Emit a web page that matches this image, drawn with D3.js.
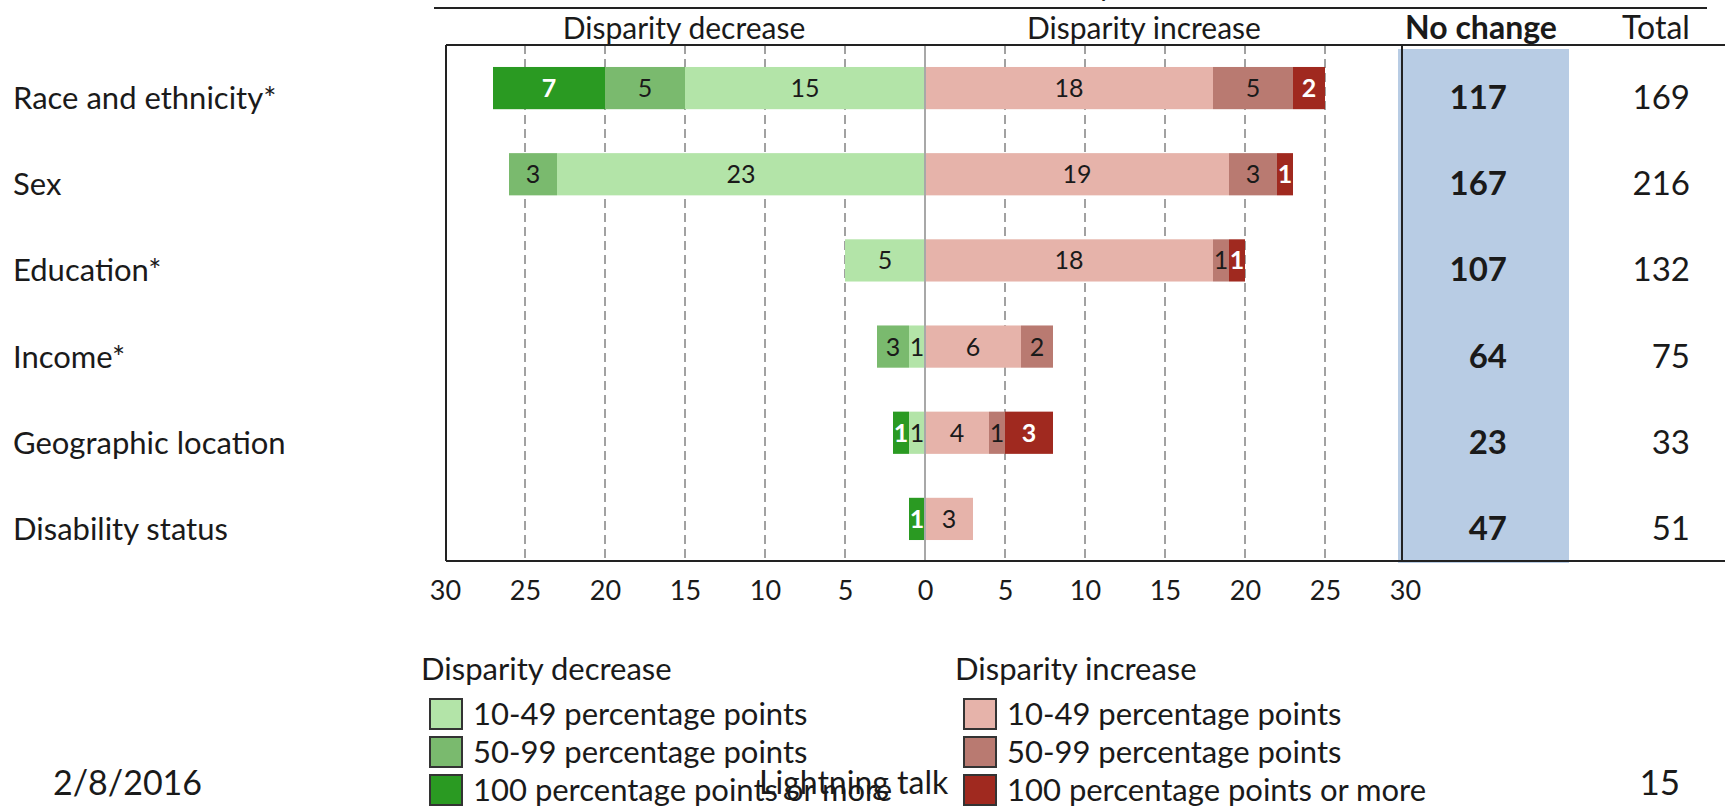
<!DOCTYPE html>
<html>
<head>
<meta charset="utf-8">
<script src="https://cdn.jsdelivr.net/npm/d3@7"></script>
<style>
  html, body { margin: 0; padding: 0; background: #fff; }
  svg { display: block; }
  text { font-family: Lato, "Noto Sans", sans-serif; fill: #1a1a1a; }
</style>
</head>
<body>
<svg id="chart" width="1725" height="811"></svg>
<script>
// ---- data ----
const categories = ["Race and ethnicity*", "Sex", "Education*", "Income*", "Geographic location", "Disability status"];
const dec100 = [7, 0, 0, 0, 1, 1];
const dec50  = [5, 3, 0, 2, 0, 0];
const dec10  = [15, 23, 5, 1, 1, 0];
const inc10  = [18, 19, 18, 6, 4, 3];
const inc50  = [5, 3, 1, 2, 1, 0];
const inc100 = [2, 1, 1, 0, 3, 0];
// labels printed on the bars (as shown in the source)
const dec50Labels = [5, 3, 0, 3, 0, 0];
const noChange = [117, 167, 107, 64, 23, 47];
const totals   = [169, 216, 132, 75, 33, 51];
const tickValues = [-30, -25, -20, -15, -10, -5, 0, 5, 10, 15, 20, 25, 30];
const legendDecrease = ["10-49 percentage points", "50-99 percentage points", "100 percentage points or more"];
const legendIncrease = ["10-49 percentage points", "50-99 percentage points", "100 percentage points or more"];

const colors = {
  dec10: "#b3e4a8", dec50: "#7aba6e", dec100: "#2a9a22",
  inc10: "#e6b3aa", inc50: "#b97a71", inc100: "#a0291f"
};

const svg = d3.select("#chart");

// ---- scales ----
const x = d3.scaleLinear().domain([-30, 30]).range([445, 1405]);
const y = d3.scaleBand().domain(categories).range([45, 562]).paddingInner(0.51).paddingOuter(0.255);

const rows = categories.map((c, i) => ({
  cat: c, i,
  dec10: dec10[i], dec50: dec50[i], dec100: dec100[i],
  inc10: inc10[i], inc50: inc50[i], inc100: inc100[i]
}));

// ---- top title fragment and separator ----
svg.append("text").attr("x", 1106).attr("y", -4).attr("text-anchor", "middle")
  .style("font-size", "30px").text("y");
svg.append("line").attr("x1", 434).attr("x2", 1707).attr("y1", 8).attr("y2", 8)
  .attr("stroke", "#222").attr("stroke-width", 2);

// ---- no change column background ----
svg.append("rect").attr("x", 1398).attr("y", 49).attr("width", 171).attr("height", 514)
  .attr("fill", "#b8cce4");

// ---- grid lines ----
svg.append("g").selectAll("line")
  .data(tickValues.filter(v => v !== 0 && Math.abs(v) !== 30))
  .join("line")
  .attr("x1", d => x(d)).attr("x2", d => x(d))
  .attr("y1", 45).attr("y2", 561)
  .attr("stroke", "#8a8a8a").attr("stroke-width", 1.6)
  .attr("stroke-dasharray", "9,5");

// ---- bars ----
const stack = d3.stack()
  .keys(["dec10", "dec50", "dec100", "inc10", "inc50", "inc100"])
  .value((d, k) => k.startsWith("dec") ? -d[k] : d[k])
  .offset(d3.stackOffsetDiverging);
const series = stack(rows);

const segs = [];
series.forEach(s => {
  s.forEach((d, i) => {
    if (d[1] - d[0] !== 0) {
      let label = rows[i][s.key];
      if (s.key === "dec50") label = dec50Labels[i];
      segs.push({ key: s.key, cat: categories[i], x0: Math.min(d[0], d[1]), x1: Math.max(d[0], d[1]), label });
    }
  });
});

const barG = svg.append("g");
barG.selectAll("rect").data(segs).join("rect")
  .attr("x", d => x(d.x0))
  .attr("width", d => x(d.x1) - x(d.x0))
  .attr("y", d => y(d.cat))
  .attr("height", y.bandwidth())
  .attr("fill", d => colors[d.key]);

barG.selectAll("text").data(segs).join("text")
  .attr("x", d => (x(d.x0) + x(d.x1)) / 2)
  .attr("y", d => y(d.cat) + y.bandwidth() / 2 + 9)
  .attr("text-anchor", "middle")
  .style("font-size", "25px")
  .style("fill", d => d.key.endsWith("100") ? "#ffffff" : "#1a1a1a")
  .style("font-weight", d => d.key.endsWith("100") ? "bold" : "normal")
  .text(d => d.label);

// zero line
svg.append("line").attr("x1", x(0)).attr("x2", x(0)).attr("y1", 45).attr("y2", 561)
  .attr("stroke", "#a8a8a8").attr("stroke-width", 2);

// ---- frame ----
const frame = svg.append("g").attr("stroke", "#222").attr("stroke-width", 2);
frame.append("line").attr("x1", 446).attr("x2", 1725).attr("y1", 45).attr("y2", 45);
frame.append("line").attr("x1", 446).attr("x2", 1725).attr("y1", 561).attr("y2", 561);
frame.append("line").attr("x1", 446).attr("x2", 446).attr("y1", 45).attr("y2", 561);
frame.append("line").attr("x1", 1402).attr("x2", 1402).attr("y1", 45).attr("y2", 561);

// ---- headers ----
const hdr = svg.append("g").style("font-size", "30px");
hdr.append("text").attr("x", 684).attr("y", 39).attr("text-anchor", "middle").text("Disparity decrease");
hdr.append("text").attr("x", 1144).attr("y", 39).attr("text-anchor", "middle").text("Disparity increase");
hdr.append("text").attr("x", 1481).attr("y", 39).attr("text-anchor", "middle").style("font-weight", "bold").style("font-size", "32px").text("No change");
hdr.append("text").attr("x", 1656).attr("y", 39).attr("text-anchor", "middle").style("font-size", "32px").text("Total");

// ---- row labels ----
svg.append("g").selectAll("text").data(categories).join("text")
  .attr("x", 13)
  .attr("y", d => y(d) + y.bandwidth() / 2 + 21)
  .style("font-size", "31px")
  .text(d => d);

// ---- no change & totals ----
svg.append("g").selectAll("text").data(noChange).join("text")
  .attr("x", 1507)
  .attr("y", (d, i) => y(categories[i]) + y.bandwidth() / 2 + 21)
  .attr("text-anchor", "end")
  .style("font-size", "33px").style("font-weight", "bold")
  .text(d => d);
svg.append("g").selectAll("text").data(totals).join("text")
  .attr("x", 1690)
  .attr("y", (d, i) => y(categories[i]) + y.bandwidth() / 2 + 21)
  .attr("text-anchor", "end")
  .style("font-size", "33px")
  .text(d => d);

// ---- x axis labels ----
const axis = d3.axisBottom(x).tickValues(tickValues).tickSize(0).tickPadding(0)
  .tickFormat(d => Math.abs(d));
const axG = svg.append("g").attr("transform", "translate(0,581)").call(axis);
axG.select(".domain").remove();
axG.selectAll("text").style("font-size", "27px").style("font-family", "Lato, sans-serif").attr("fill", "#1a1a1a");

// ---- legend ----
function legend(x0, title, labels, keys) {
  const g = svg.append("g");
  g.append("text").attr("x", x0).attr("y", 680).style("font-size", "31px").text(title);
  labels.forEach((t, i) => {
    const cy = 714 + i * 38;
    g.append("rect").attr("x", x0 + 9).attr("y", cy - 15).attr("width", 32).attr("height", 30)
      .attr("fill", colors[keys[i]]).attr("stroke", "#333").attr("stroke-width", 2);
    g.append("text").attr("x", x0 + 52).attr("y", cy + 11).style("font-size", "31px").text(t);
  });
}
legend(421, "Disparity decrease", legendDecrease, ["dec10", "dec50", "dec100"]);
legend(955, "Disparity increase", legendIncrease, ["inc10", "inc50", "inc100"]);

// ---- slide footer ----
const foot = svg.append("g").style("font-family", "'DejaVu Sans', sans-serif");
foot.append("text").attr("x", 53).attr("y", 795).style("font-size", "34px").text("2/8/2016");
foot.append("text").attr("x", 759).attr("y", 794).style("font-size", "32px").text("Lightning talk");
foot.append("text").attr("x", 1680).attr("y", 795).attr("text-anchor", "end").style("font-size", "35px").text("15");
</script>
</body>
</html>
